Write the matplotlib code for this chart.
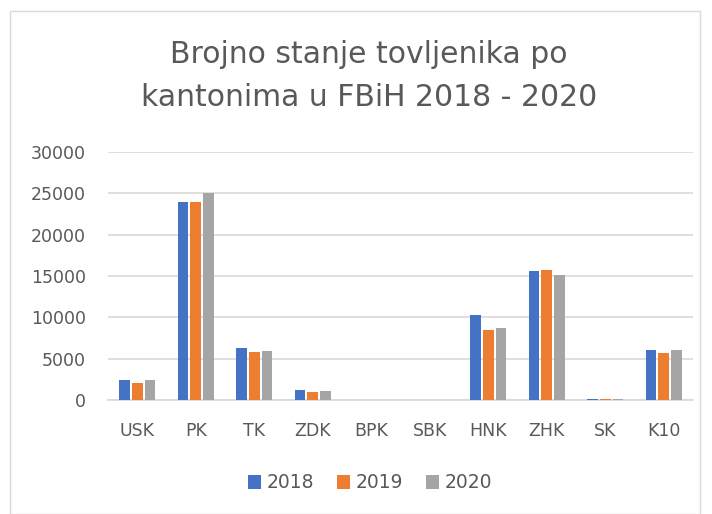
import matplotlib
matplotlib.use("Agg")
import matplotlib.pyplot as plt
import numpy as np
from matplotlib.patches import Rectangle

categories = ["USK", "PK", "TK", "ZDK", "BPK", "SBK", "HNK", "ZHK", "SK", "K10"]
years = ["2018", "2019", "2020"]
v2018 = [2450, 24000, 6300, 1170, 0, 0, 10250, 15560, 150, 6070]
v2019 = [2090, 24000, 5830, 930, 0, 0, 8480, 15760, 150, 5710]
v2020 = [2370, 25000, 5910, 1050, 0, 0, 8720, 15120, 100, 6070]
yticks = [0, 5000, 10000, 15000, 20000, 25000, 30000]
colors = ["#4472C4", "#ED7D31", "#A5A5A5"]
title = "Brojno stanje tovljenika po\nkantonima u FBiH 2018 - 2020"

plt.rcParams['font.family'] = ['DejaVu Sans']
txt = "#595959"
grid = "#D9D9D9"

fig = plt.figure(figsize=(7.12, 5.14), dpi=100)
fig.patches.append(Rectangle((10/712, 0), 690/712, 503/514, transform=fig.transFigure,
                             fill=False, edgecolor=grid, linewidth=1.0))

ax = fig.add_axes([108/712, 114/514, 585/712, 248/514])
x = np.arange(len(categories))
w = 0.18
off = 0.22
for i, (vals, c, lab) in enumerate(zip([v2018, v2019, v2020], colors, years)):
    ax.bar(x + (i - 1) * off, vals, width=w, color=c, label=lab, zorder=3)

ax.set_xlim(-0.5, len(categories) - 0.5)
ax.set_ylim(0, 30000)
ax.set_yticks(yticks)
ax.set_yticklabels([str(t) for t in yticks])
ax.set_xticks(x)
ax.set_xticklabels(categories)
ax.yaxis.grid(True, color=grid, linewidth=1.2, zorder=0)
ax.set_axisbelow(True)
for s in ["top", "right", "left"]:
    ax.spines[s].set_visible(False)
ax.spines["bottom"].set_color(grid)
ax.spines["bottom"].set_linewidth(1.2)
ax.tick_params(axis="both", length=0, colors=txt, labelsize=12.5)
ax.tick_params(axis="y", pad=16)
ax.tick_params(axis="x", pad=16)

fig.text(0.518, 1 - 76/514, title, ha="center", va="center", fontsize=21.5, color=txt,
         linespacing=1.58)

leg = fig.legend(loc="center", bbox_to_anchor=(0.52, 1 - 483/514), ncol=3, frameon=False,
                 fontsize=13.5, handlelength=0.7, handleheight=0.7, handletextpad=0.3,
                 columnspacing=1.2, labelcolor=txt)

fig.savefig("out.png", dpi=100)
